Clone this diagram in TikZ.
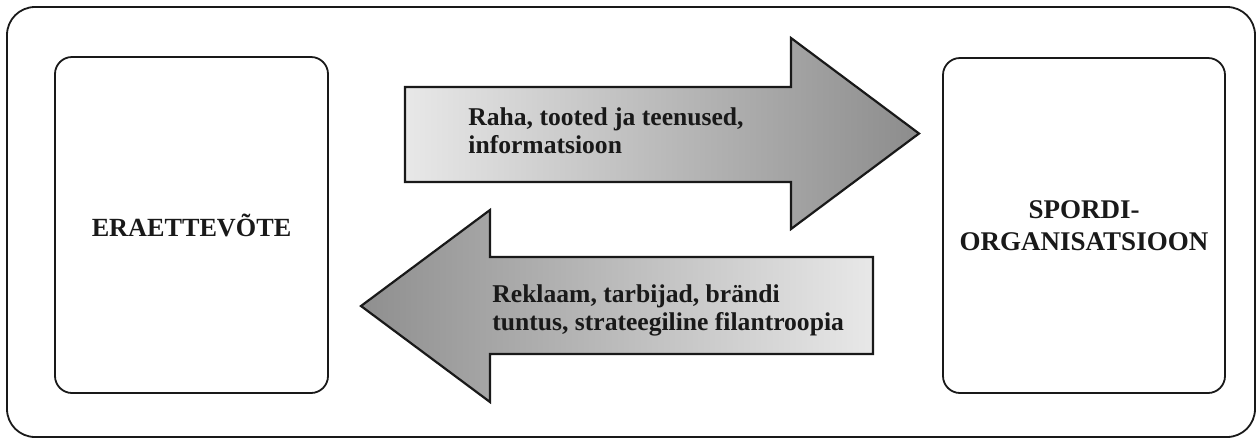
\documentclass[tikz,border=0pt]{standalone}
\usepackage{fontspec}
\setmainfont{Liberation Serif}
\begin{document}
\begin{tikzpicture}[x=0.5pt,y=-0.5pt,
  frame/.style={draw=black!90, line width=0.9pt, rounded corners=14pt},
  party/.style={draw=black!90, line width=0.9pt, rounded corners=8.5pt, align=center, inner sep=0pt,
     text=black!90},
  flowarrow/.style={draw=black!90, line width=1.1pt, line join=miter},
  flowtext/.style={anchor=west, align=left, inner sep=0pt,
     font=\fontsize{12.8}{14}\selectfont\bfseries, text=black!90}]
\useasboundingbox (0,0) rectangle (1260,441);
\node[frame, minimum width=624pt, minimum height=215pt] (outer) at (631,222) {};
\node[party, minimum width=136.5pt, minimum height=168pt,
      font=\fontsize{13.1}{16}\selectfont\bfseries] (firm) at (191.5,225) {ERAETTEVÕTE};
\node[party, minimum width=141pt, minimum height=167.5pt,
      font=\fontsize{13.5}{16}\selectfont\bfseries] (org) at (1084,225.5) {SPORDI-\\ORGANISATSIOON};
\draw[flowarrow, left color=black!9, right color=black!45]
  (405,87) -- (791,87) -- (791,38) -- (919,133.5) -- (791,229) -- (791,182) -- (405,182) -- cycle;
\draw[flowarrow, left color=black!44, right color=black!9]
  (873,257) -- (490,257) -- (490,210) -- (361,306) -- (490,402) -- (490,354) -- (873,354) -- cycle;
\node[flowtext] (t1) at (468,131) {Raha, tooted ja teenused,\\informatsioon};
\node[flowtext] (t2) at (492,310) {Reklaam, tarbijad, brändi\\tuntus, strateegiline filantroopia};
\end{tikzpicture}
\end{document}
